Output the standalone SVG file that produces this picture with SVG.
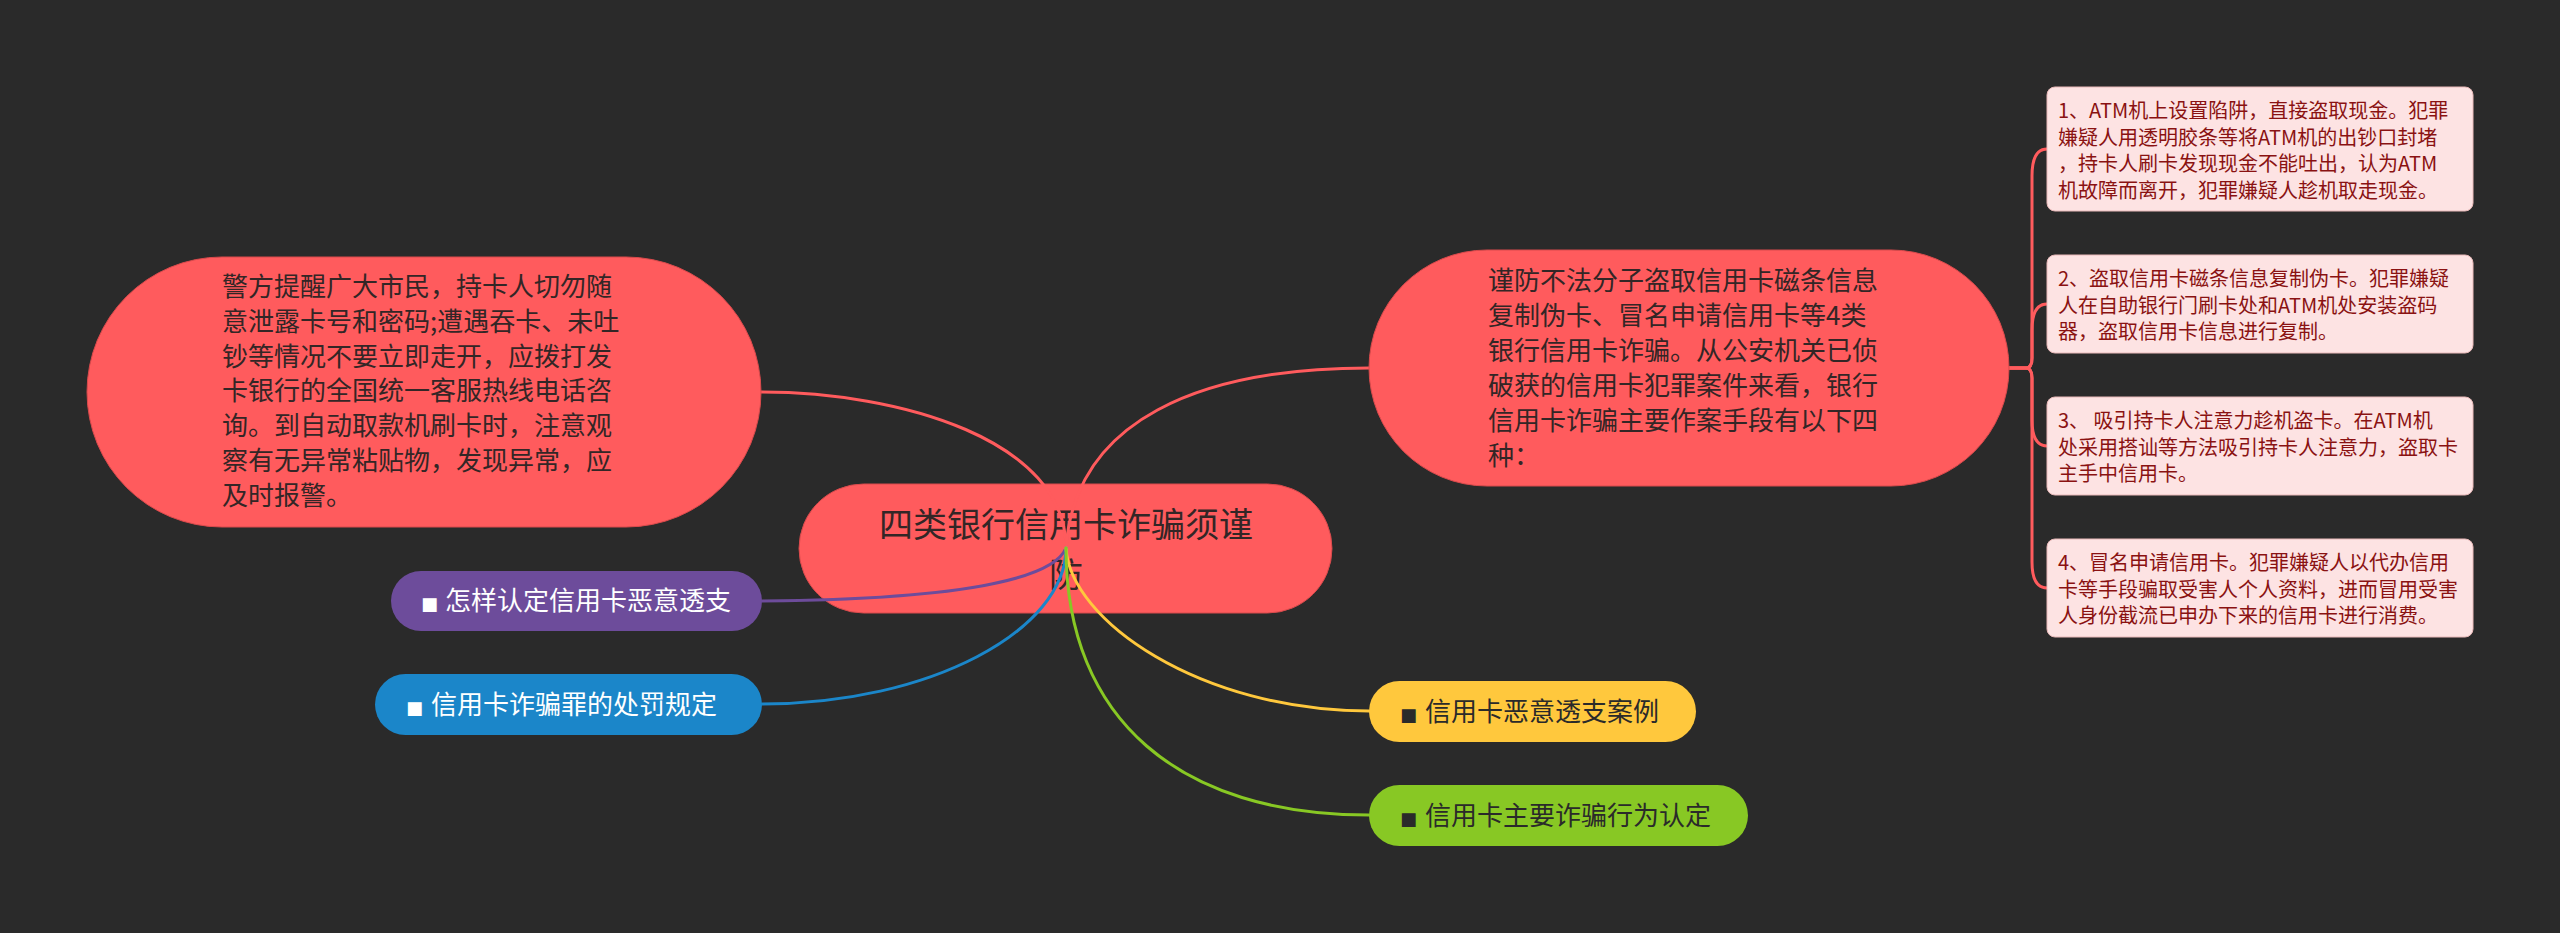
<svg xmlns="http://www.w3.org/2000/svg" width="2560" height="933" viewBox="0 0 2560 933">
<style>
  .cjk { font-family: "Noto Sans CJK SC", "Noto Sans", sans-serif; }
  .red { fill: #ff5b5d; stroke: #d94a4c; stroke-width: 1; }
  .big { font-size: 26px; fill: #332626; }
  .box { fill: #fde3e3; stroke: #e9b9b9; stroke-width: 1; }
  .boxt { font-size: 20px; fill: #8a1212; }
  .sub { font-size: 26px; }
  .bul { font-family: "DejaVu Sans", sans-serif; font-size: 18px; }
  .con { fill: none; stroke-width: 3; stroke-linecap: round; }
</style>
<rect x="0" y="0" width="2560" height="933" fill="#2a2a2a"/>

<g id="root">
  <rect class="red" x="799" y="484" width="533" height="129" rx="64.5"/>
  <text class="cjk" font-size="34" fill="#332626" text-anchor="middle" x="1066" y="537">四类银行信用卡诈骗须谨</text>
  <text class="cjk" font-size="34" fill="#332626" text-anchor="middle" x="1066" y="587">防</text>
</g>

<g id="connectors">
  <path class="con" stroke="#ff5b5d" d="M1066,548 C1066,440 900,392 761,392"/>
  <path class="con" stroke="#ff5b5d" d="M1066,548 C1075,420 1200,368 1369,368"/>
  <path class="con" stroke="#6d4c9b" d="M1066,548 C1055,575 980,599 762,601"/>
  <path class="con" stroke="#1b86c9" d="M1066,548 C1066,630 930,704 762,704"/>
  <path class="con" stroke="#ffc83d" d="M1066,548 C1070,620 1200,711 1369,711"/>
  <path class="con" stroke="#88c824" d="M1066,548 C1066,720 1180,815 1369,815"/>
  <path class="con" stroke="#ff5b5d" d="M2009,368 H2026 Q2032,368 2032,358 L2032,176 Q2032,149 2047,149"/>
  <path class="con" stroke="#ff5b5d" d="M2009,368 H2026 Q2032,368 2032,358 L2032,330 Q2032,304 2047,304"/>
  <path class="con" stroke="#ff5b5d" d="M2009,368 H2026 Q2032,368 2032,378 L2032,420 Q2032,446 2047,446"/>
  <path class="con" stroke="#ff5b5d" d="M2009,368 H2026 Q2032,368 2032,378 L2032,562 Q2032,588 2047,588"/>
</g>

<g id="node-left-note">
  <rect class="red" x="87" y="257" width="674" height="270" rx="135"/>
  <text class="cjk big">
    <tspan x="222" y="296">警方提醒广大市民，持卡人切勿随</tspan>
    <tspan x="222" y="330.8">意泄露卡号和密码;遭遇吞卡、未吐</tspan>
    <tspan x="222" y="365.6">钞等情况不要立即走开，应拨打发</tspan>
    <tspan x="222" y="400.4">卡银行的全国统一客服热线电话咨</tspan>
    <tspan x="222" y="435.2">询。到自动取款机刷卡时，注意观</tspan>
    <tspan x="222" y="470">察有无异常粘贴物，发现异常，应</tspan>
    <tspan x="222" y="504.8">及时报警。</tspan>
  </text>
</g>

<g id="node-right-note">
  <rect class="red" x="1369" y="250" width="640" height="236" rx="118"/>
  <text class="cjk big">
    <tspan x="1488" y="290">谨防不法分子盗取信用卡磁条信息</tspan>
    <tspan x="1488" y="325">复制伪卡、冒名申请信用卡等4类</tspan>
    <tspan x="1488" y="360">银行信用卡诈骗。从公安机关已侦</tspan>
    <tspan x="1488" y="395">破获的信用卡犯罪案件来看，银行</tspan>
    <tspan x="1488" y="430">信用卡诈骗主要作案手段有以下四</tspan>
    <tspan x="1488" y="465">种：</tspan>
  </text>
</g>

<g id="box-1">
  <rect class="box" x="2047" y="87" width="426" height="124" rx="8"/>
  <text class="cjk boxt">
    <tspan x="2058" y="118">1、ATM机上设置陷阱，直接盗取现金。犯罪</tspan>
    <tspan x="2058" y="144.5">嫌疑人用透明胶条等将ATM机的出钞口封堵</tspan>
    <tspan x="2058" y="171">，持卡人刷卡发现现金不能吐出，认为ATM</tspan>
    <tspan x="2058" y="197.5">机故障而离开，犯罪嫌疑人趁机取走现金。</tspan>
  </text>
</g>

<g id="box-2">
  <rect class="box" x="2047" y="255" width="426" height="98" rx="8"/>
  <text class="cjk boxt">
    <tspan x="2058" y="286">2、盗取信用卡磁条信息复制伪卡。犯罪嫌疑</tspan>
    <tspan x="2058" y="312.5">人在自助银行门刷卡处和ATM机处安装盗码</tspan>
    <tspan x="2058" y="339">器，盗取信用卡信息进行复制。</tspan>
  </text>
</g>

<g id="box-3">
  <rect class="box" x="2047" y="397" width="426" height="98" rx="8"/>
  <text class="cjk boxt">
    <tspan x="2058" y="428">3、 吸引持卡人注意力趁机盗卡。在ATM机</tspan>
    <tspan x="2058" y="454.5">处采用搭讪等方法吸引持卡人注意力，盗取卡</tspan>
    <tspan x="2058" y="481">主手中信用卡。</tspan>
  </text>
</g>

<g id="box-4">
  <rect class="box" x="2047" y="539" width="426" height="98" rx="8"/>
  <text class="cjk boxt">
    <tspan x="2058" y="570">4、冒名申请信用卡。犯罪嫌疑人以代办信用</tspan>
    <tspan x="2058" y="596.5">卡等手段骗取受害人个人资料，进而冒用受害</tspan>
    <tspan x="2058" y="623">人身份截流已申办下来的信用卡进行消费。</tspan>
  </text>
</g>

<g id="node-purple">
  <rect x="391" y="571" width="371" height="60" rx="30" fill="#6d4c9b"/>
  <text class="cjk sub" fill="#ffffff" y="610"><tspan class="bul" x="421">■</tspan><tspan x="445">怎样认定信用卡恶意透支</tspan></text>
</g>

<g id="node-blue">
  <rect x="375" y="674" width="387" height="61" rx="30.5" fill="#1b86c9"/>
  <text class="cjk sub" fill="#ffffff" y="714"><tspan class="bul" x="406">■</tspan><tspan x="431">信用卡诈骗罪的处罚规定</tspan></text>
</g>

<g id="node-yellow">
  <rect x="1369" y="681" width="327" height="61" rx="30.5" fill="#ffc83d"/>
  <text class="cjk sub" fill="#2a2a2a" y="721"><tspan class="bul" x="1400">■</tspan><tspan x="1425">信用卡恶意透支案例</tspan></text>
</g>

<g id="node-green">
  <rect x="1369" y="785" width="379" height="61" rx="30.5" fill="#88c824"/>
  <text class="cjk sub" fill="#2a2a2a" y="825"><tspan class="bul" x="1400">■</tspan><tspan x="1425">信用卡主要诈骗行为认定</tspan></text>
</g>
</svg>
